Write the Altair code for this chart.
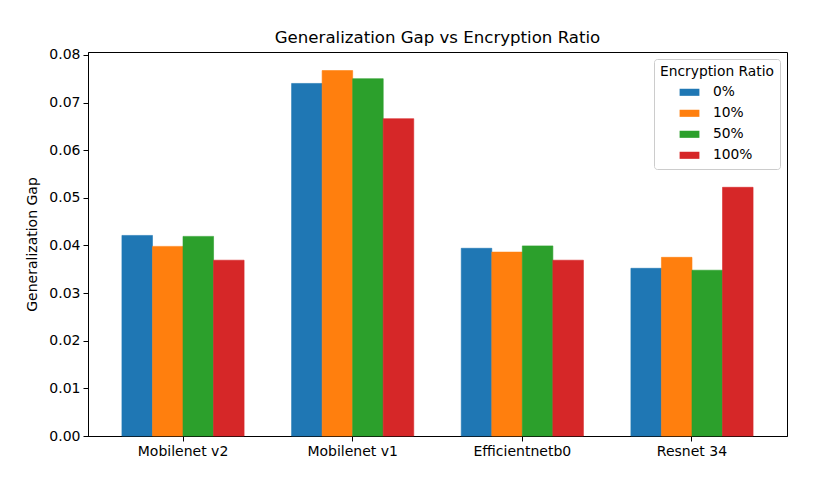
import altair as alt
import pandas as pd

models = ["Mobilenet v2", "Mobilenet v1", "Efficientnetb0", "Resnet 34"]
ratios = ["0%", "10%", "50%", "100%"]
gap_0 = [0.0421, 0.0740, 0.0394, 0.0352]
gap_10 = [0.0398, 0.0767, 0.0386, 0.0375]
gap_50 = [0.0419, 0.0750, 0.0399, 0.0348]
gap_100 = [0.0369, 0.0666, 0.0369, 0.0522]
colors = ["#1f77b4", "#ff7f0e", "#2ca02c", "#d62728"]

rows = []
for r, vals in zip(ratios, [gap_0, gap_10, gap_50, gap_100]):
    for m, v in zip(models, vals):
        rows.append({"Model": m, "Encryption Ratio": r, "Gap": v})
df = pd.DataFrame(rows)

FONT = "DejaVu Sans"

chart = alt.Chart(df).mark_bar(strokeWidth=0.6).encode(
    x=alt.X("Model:N", sort=models, title=None,
            scale=alt.Scale(paddingInner=0.28, paddingOuter=0.2),
            axis=alt.Axis(labelAngle=0, labelFontSize=14, labelColor="black",
                          domainColor="black", tickColor="black", tickSize=5,
                          labelPadding=3, labelFont=FONT)),
    xOffset=alt.XOffset("Encryption Ratio:N", sort=ratios,
                        scale=alt.Scale(paddingInner=0, paddingOuter=0)),
    y=alt.Y("Gap:Q", title="Generalization Gap",
            scale=alt.Scale(domain=[0, 0.0806], nice=False),
            axis=alt.Axis(values=[0, 0.01, 0.02, 0.03, 0.04, 0.05, 0.06, 0.07, 0.08],
                          format=".2f", grid=False, labelFontSize=14, labelColor="black",
                          titleFontSize=14, titleFontWeight="normal", titleColor="black",
                          domainColor="black", tickColor="black", tickSize=5,
                          labelPadding=3, titlePadding=9, labelFont=FONT, titleFont=FONT)),
    stroke=alt.Stroke("Encryption Ratio:N", sort=ratios,
                      scale=alt.Scale(domain=ratios, range=colors), legend=None),
    color=alt.Color("Encryption Ratio:N", sort=ratios,
                    scale=alt.Scale(domain=ratios, range=colors),
                    legend=alt.Legend(
                        title="Encryption Ratio", orient="top-right", offset=7,
                        titleFontSize=13.8, titleFontWeight="normal", titleColor="black",
                        labelFontSize=13.8, labelColor="black", titleFont=FONT, labelFont=FONT,
                        symbolType="M-1.4,-0.5L1.4,-0.5L1.4,0.5L-1.4,0.5Z",
                        symbolSize=200, symbolStrokeWidth=0, symbolOpacity=1,
                        padding=6, strokeColor="#cccccc", cornerRadius=3,
                        fillColor="white", rowPadding=6, labelOffset=16,
                        titlePadding=6, titleAnchor="middle")),
).properties(
    width=699, height=384,
    title=alt.TitleParams("Generalization Gap vs Encryption Ratio", fontSize=16.6,
                          fontWeight="normal", font=FONT, color="black", offset=1),
    padding={"left": 80, "top": 44, "right": 23, "bottom": 34},
    autosize=alt.AutoSizeParams(type="none"),
).configure_view(stroke="black", strokeWidth=1)

chart.save("out.html", embed_options={"renderer": "svg", "actions": False})
